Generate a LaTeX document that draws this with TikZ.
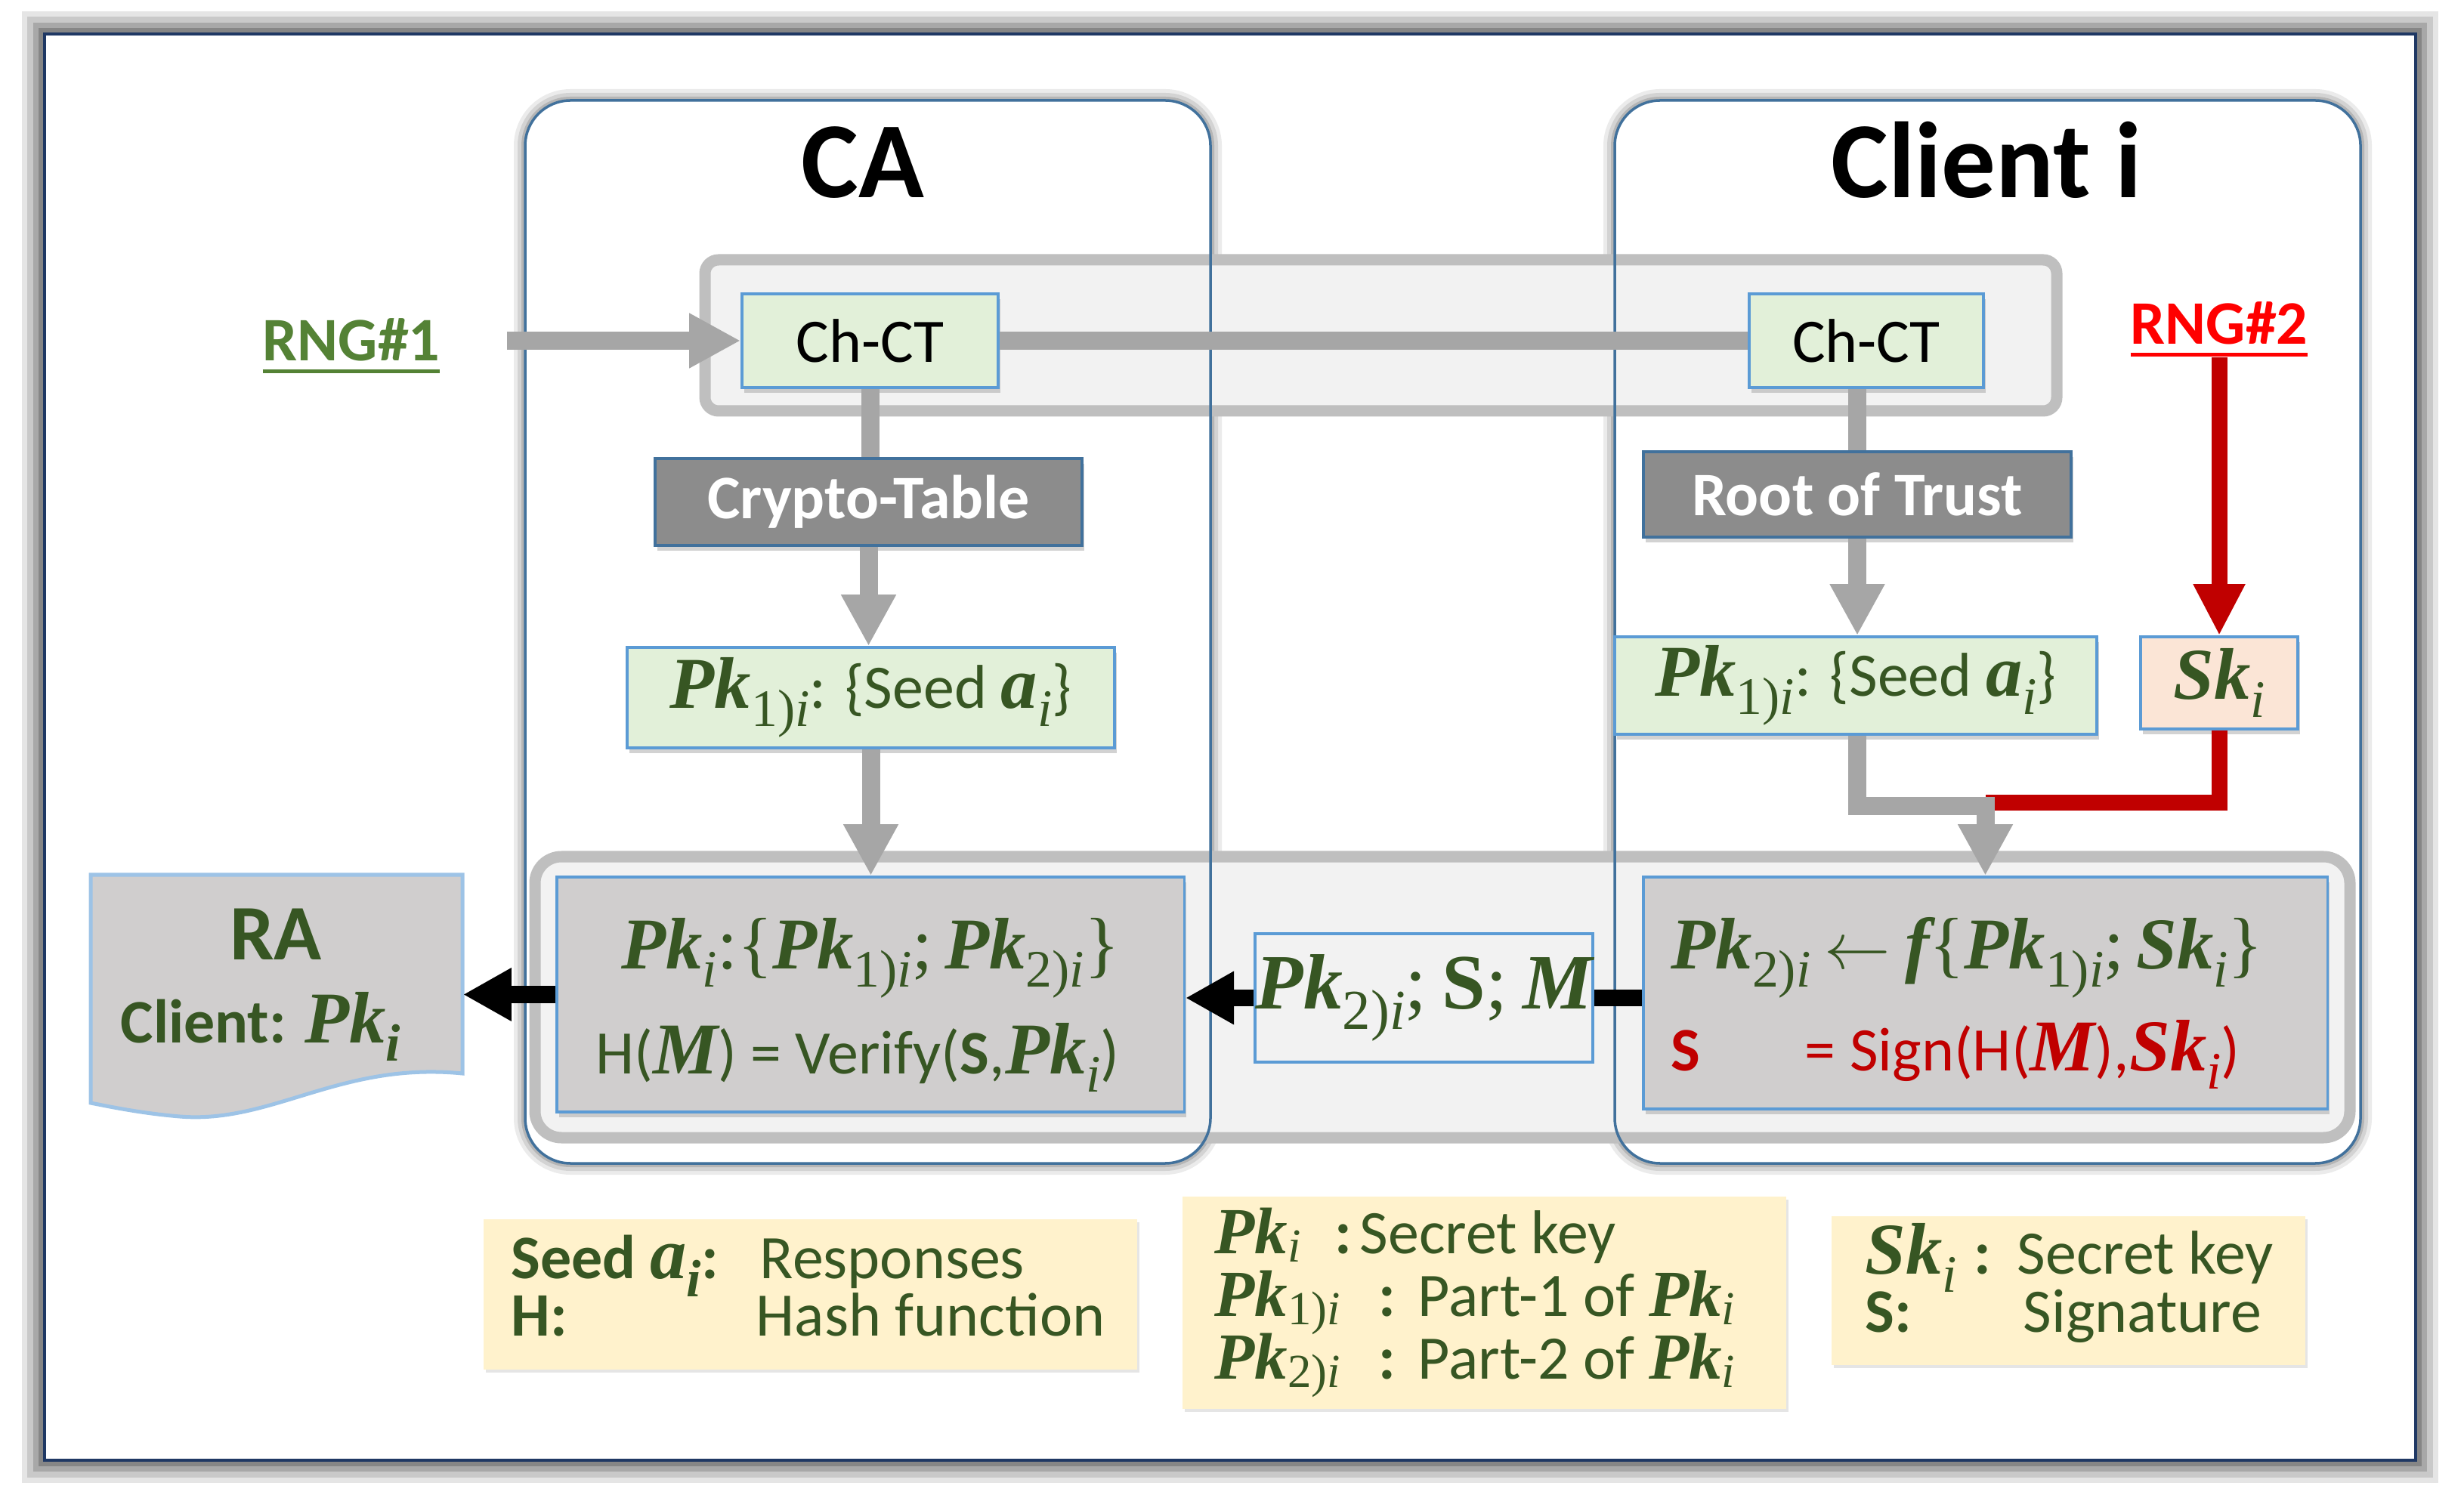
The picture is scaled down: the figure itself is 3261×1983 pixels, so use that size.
\documentclass[tikz,border=0pt]{standalone}
\usepackage{fontspec}
\setmainfont{Carlito}
\newfontfamily\serif{Liberation Serif}[Scale=1.18]
\usepackage{graphicx}
\usetikzlibrary{arrows.meta,shadows,calc}
\definecolor{dgreen}{HTML}{375623}
\definecolor{rnggreen}{HTML}{548235}
\definecolor{boxblue}{HTML}{5B9BD5}
\definecolor{frameblue}{HTML}{41719C}
\definecolor{navyline}{HTML}{1F3864}
\definecolor{lgreen}{HTML}{E2F0D9}
\definecolor{peach}{HTML}{FBE5D6}
\definecolor{cream}{HTML}{FFF2CC}
\definecolor{boxgray}{HTML}{D0CECE}
\definecolor{midgray}{HTML}{8C8C8C}
\definecolor{arrgray}{HTML}{A6A6A6}
\definecolor{bandfill}{HTML}{F2F2F2}
\definecolor{bandline}{HTML}{BFBFBF}
\definecolor{dred}{HTML}{C00000}
\definecolor{bred}{HTML}{FF0000}
\definecolor{rablue}{HTML}{9DC3E6}
\newcommand\bv[1]{{\serif\bfseries\itshape #1}}
\newcommand\sbs[1]{\raisebox{-0.3em}{\scalebox{0.72}{\serif #1}}}
\newcommand\sbl[1]{\raisebox{-0.16em}{\scalebox{0.72}{\serif #1}}}
\newcommand\lpk[1]{{\fontsize{21}{24}\selectfont\bv{Pk}\sbl{#1}}}
\newcommand\iit{\textit{i}}
\newcommand\fmid{\fontsize{23.3}{28}\selectfont}
\newcommand\ftitle{\fontsize{40.7}{48}\selectfont\bfseries}
\newcommand\ulin[1]{\setbox0\hbox{#1}\rlap{\rule[-0.16cm]{\wd0}{0.05cm}}\box0}
\newcommand\threelines[3]{\vtop{\baselineskip=0.83cm\lineskiplimit=-5cm\lineskip=0pt\hbox{#1}\hbox{#2}\hbox{#3}}}
\tikzset{
  conn/.style={draw=arrgray, line width=0.24cm},
  garrow/.style={conn, -{Triangle[length=0.68cm,width=0.68cm]}},
  rline/.style={draw=dred, line width=0.21cm},
  rarrow/.style={rline, -{Triangle[length=0.68cm,width=0.64cm]}},
  bline/.style={draw=black, line width=0.22cm},
  barrow/.style={bline, -{Triangle[length=0.64cm,width=0.66cm]}},
  shad/.style={drop shadow={shadow xshift=0.03cm, shadow yshift=-0.07cm, opacity=0.35}},
  greenbox/.style={draw=boxblue, line width=0.035cm, fill=lgreen, shad, inner sep=0pt},
  tagbox/.style={draw=frameblue, line width=0.035cm, fill=midgray, shad, text=white, font=\fmid\bfseries, inner sep=0pt},
  bigbox/.style={draw=boxblue, line width=0.035cm, fill=boxgray, shad, inner sep=0pt},
  legbox/.style={fill=cream, drop shadow={shadow xshift=0.03cm, shadow yshift=-0.04cm, opacity=0.2}, inner sep=0pt},
  txt/.style={inner sep=0pt, text=dgreen},
  ttl/.style={inner sep=0pt, font=\ftitle},
  region/.style={draw=frameblue, line width=0.035cm, rounded corners=0.6cm},
  band/.style={draw=bandline, fill=bandfill, line width=0.15cm},
}
\begin{document}
\begin{tikzpicture}[x=0.01cm,y=-0.01cm,font=\fmid]
\fill[white] (0,0) rectangle (3261,1983);
\useasboundingbox (0,0) rectangle (3261,1983);
% outer frame
\foreach \w/\o in {0.6/0.1,0.45/0.12,0.3/0.16,0.15/0.2}{\draw[line width=\w cm, black, opacity=\o] (59,45) rectangle (3197,1933);}
\fill[white] (59,45) rectangle (3197,1933);
\draw[navyline, line width=0.045cm] (59,45) rectangle (3197,1933);
% regions
\foreach \w/\o in {0.3/0.08,0.2/0.1,0.1/0.14}{
  \draw[line width=\w cm, black, opacity=\o, rounded corners=0.6cm] (695,133) rectangle (1602,1540);
  \draw[line width=\w cm, black, opacity=\o, rounded corners=0.6cm] (2137,133) rectangle (3124,1540);}
\fill[white, rounded corners=0.6cm] (695,133) rectangle (1602,1540);
\fill[white, rounded corners=0.6cm] (2137,133) rectangle (3124,1540);
% bands
\draw[band, rounded corners=0.18cm] (933,344) rectangle (2722,544);
\draw[band, rounded corners=0.35cm] (708,1134) rectangle (3110,1506);
\draw[region] (695,133) rectangle (1602,1540);
\draw[region] (2137,133) rectangle (3124,1540);
% titles
\node[ttl, anchor=base] (caT) at (1142,262) {CA};
\node[ttl, anchor=base] (clT) at (2629,262) {Client i};
% labels
\node[inner sep=0pt, anchor=base, text=rnggreen, font=\fmid\bfseries] (rng1) at (465,478) {\ulin{RNG\#1}};
\node[inner sep=0pt, anchor=base, text=bred, font=\fmid\bfseries] (rng2) at (2937,456) {\ulin{RNG\#2}};
% boxes
\node[greenbox, minimum width=3.39cm, minimum height=1.24cm, text=black] (ctL) at (1151.5,451) {Ch-CT};
\node[greenbox, minimum width=3.10cm, minimum height=1.24cm, text=black] (ctR) at (2470,451) {Ch-CT};
\node[tagbox, minimum width=5.65cm, minimum height=1.15cm] (ctab) at (1149.5,664.5) {Crypto-Table};
\node[tagbox, minimum width=5.66cm, minimum height=1.13cm] (rot) at (2458,654.5) {Root of Trust};
\node[greenbox, minimum width=6.45cm, minimum height=1.33cm, text=dgreen] (pk1L) at (1152.5,923.5) {\bv{Pk}\sbs{1)\iit}: \{Seed \bv{a}\sbs{\iit}\}};
\node[greenbox, minimum width=6.38cm, minimum height=1.29cm, text=dgreen] (pk1R) at (2456,907.5) {\bv{Pk}\sbs{1)\iit}: \{Seed \bv{a}\sbs{\iit}\}};
\node[greenbox, fill=peach, minimum width=2.08cm, minimum height=1.22cm, text=dgreen] (sk) at (2937,904) {\bv{Sk}\sbs{\iit}};
\node[bigbox, minimum width=8.30cm, minimum height=3.11cm] (ver) at (1152,1316.5) {};
\node[bigbox, minimum width=9.05cm, minimum height=3.07cm] (sig) at (2627.5,1314.5) {};
\node[draw=boxblue, line width=0.035cm, fill=bandfill, minimum width=4.47cm, minimum height=1.70cm, inner sep=0pt, text=dgreen, font=\fontsize{25}{30}\selectfont] (msg) at (1884.5,1321) {\bv{Pk}\sbs{2)\iit}{\serif;} {\serif\bfseries S}{\serif;} \bv{M}};
% box texts
\node[txt, anchor=base] (verA) at (1152,1282) {\bv{Pk}\sbs{\iit}{\serif:\{}\bv{Pk}\sbs{1)\iit}{\serif;\,}\bv{Pk}\sbs{2)\iit}{\serif\}}};
\node[txt, anchor=base] (verB) at (1135,1421) {H(\bv{M}) = Verify(\textbf{S},\bv{Pk}\sbs{\iit})};
\node[txt, anchor=base west] (sigA) at (2211,1282) {\bv{Pk}\sbs{2)\iit} $\leftarrow$ \bv{f}{\serif\{}\bv{Pk}\sbs{1)\iit}{\serif;\,}\bv{Sk}\sbs{\iit}{\serif\}}};
\node[txt, anchor=base west, text=dred] (sigB) at (2211,1417) {\makebox[1.77cm][l]{\textbf{S}}= Sign(H(\bv{M}),\bv{Sk}\sbs{\iit})};
% RA document
\draw[rablue, fill=boxgray, line width=0.05cm] (120,1158) -- (612,1158) -- (612,1421) .. controls (450,1405) and (360,1488) .. (238,1478) .. controls (190,1474) and (150,1466) .. (120,1460) -- cycle;
\node[minimum width=4.92cm, minimum height=3.17cm, inner sep=0pt] (ra) at (366,1316.5) {};
\node[txt, anchor=base, font=\fontsize{29.6}{34}\selectfont\bfseries] (raT) at (365,1270) {RA};
\node[txt, anchor=base, font=\fmid\bfseries] (raC) at (345,1380) {Client: \bv{Pk}\sbs{\iit}};
% legends
\node[legbox, minimum width=8.65cm, minimum height=1.99cm] (leg1) at (1072.5,1713.5) {};
\node[legbox, minimum width=7.99cm, minimum height=2.81cm] (leg2) at (1964.5,1724.5) {};
\node[legbox, minimum width=6.27cm, minimum height=1.97cm] (leg3) at (2737.5,1708.5) {};
\node[txt, anchor=base west] (l1a) at (676,1692) {\makebox[3.29cm][l]{\textbf{Seed \bv{a}\sbs{\iit}:}}Responses};
\node[txt, anchor=base west] (l1b) at (676,1768) {\makebox[3.24cm][l]{\textbf{H:}}Hash function};
\node[txt, anchor=base west] (l2) at (1607,1659) {\threelines
  {\lpk{\iit}\hspace{0.45cm}\textbf{:}\hspace{0.1cm}Secret key}
  {\lpk{1)\iit}\hspace{0.5cm}\textbf{:}\hspace{0.3cm}Part-1 of \lpk{\iit}}
  {\lpk{2)\iit}\hspace{0.5cm}\textbf{:}\hspace{0.3cm}Part-2 of \lpk{\iit}}};
\node[txt, anchor=base west] (l3a) at (2468,1686) {\makebox[2.01cm][l]{\bv{Sk}\sbs{\iit}\hspace{0.22cm}\textbf{:}}Secret key};
\node[txt, anchor=base west] (l3b) at (2468,1763) {\makebox[2.09cm][l]{\textbf{S:}}Signature};
% connectors
\coordinate (r1s) at (671,451);
\coordinate (r2s) at (2937,473);
\draw[garrow] (r1s) -- (ctL.west);
\draw[rarrow] (r2s) -- (sk.north);
\draw[conn] (ctL.east) -- (ctR.west);
\draw[conn] (ctL.south) -- (ctL.south |- ctab.north);
\draw[garrow] (ctab.south) -- (ctab.south |- pk1L.north);
\draw[conn] (rot.north |- ctR.south) -- (rot.north);
\draw[garrow] (rot.south) -- (rot.south |- pk1R.north);
\draw[garrow] (pk1L.south) -- (pk1L.south |- ver.north);
\draw[rline] (sk.south) |- ([yshift=0.97cm]sig.north);
\draw[garrow] (rot.south |- pk1R.south) |- ([yshift=0.92cm]sig.north) -- (sig.north);
\draw[bline] (sig.west |- msg.east) -- (msg.east);
\draw[barrow] (msg.west) -- (msg.west -| ver.east);
\draw[barrow] (ver.west) -- (ver.west -| ra.east);
\end{tikzpicture}
\end{document}
